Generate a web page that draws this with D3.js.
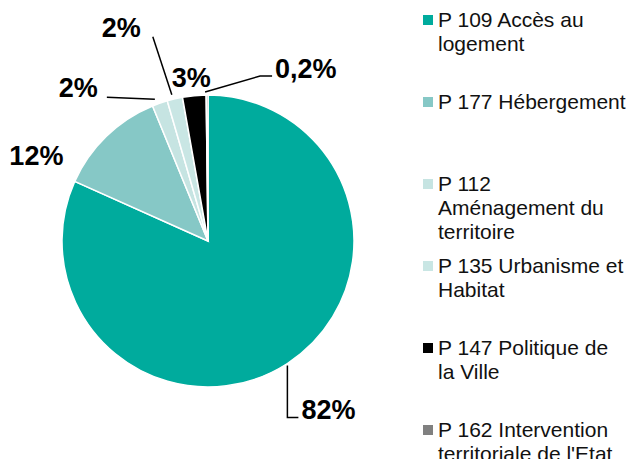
<!DOCTYPE html>
<html>
<head>
<meta charset="utf-8">
<script src="https://cdn.jsdelivr.net/npm/d3@7"></script>
<style>
  body { margin: 0; background: #fff; }
  text { font-family: "Liberation Sans", Arial, sans-serif; }
</style>
</head>
<body>
<svg id="chart" width="630" height="459"></svg>
<script>
// programmes, in drawing order (clockwise from 12 o'clock)
let programmes = ["P 109", "P 177", "P 112", "P 135", "P 147", "P 162"];
let shares = [81.7, 12.1, 1.7, 1.7, 2.6, 0.2];
let shareLabels = ["82%", "12%", "2%", "2%", "3%", "0,2%"];
let legendLines = [
    ["P 109 Accès au", "logement"],
    ["P 177 Hébergement"],
    ["P 112", "Aménagement du", "territoire"],
    ["P 135 Urbanisme et", "Habitat"],
    ["P 147 Politique de", "la Ville"],
    ["P 162 Intervention", "territoriale de l'Etat"]
];
let colors = ["#00ab9d", "#86c8c6", "#c6e4e2", "#c9e6e4", "#000000", "#808080"];

let svgW = 630, svgH = 459;
let cx = 208, cy = 241, radius = 146;

let svg = d3.select("#chart");

let pie = d3.pie()
    .sort(null)
    .value(function (d) { return d; });

let arc = d3.arc()
    .innerRadius(0)
    .outerRadius(radius);

let arcs = pie(shares);

let g = svg.append("g")
    .attr("transform", "translate(" + cx + "," + cy + ")");

g.selectAll("path")
    .data(arcs)
    .enter()
    .append("path")
    .attr("d", arc)
    .style("fill", function (d, i) { return colors[i]; })
    .style("stroke", "#fff")
    .style("stroke-width", 1.5);

// point on the rim at the middle of a slice
function rim(d, r) {
    let a = (d.startAngle + d.endAngle) / 2;
    return [Math.sin(a) * r, -Math.cos(a) * r];
}

// label placement, relative to the rim point of each slice (like the original hand-placed labels)
let labelOffset = [[14, 55], [-43, 29], [-62, -6], [-34, -62], [-3, -9], [68, -17]];
let labelAnchor = ["start", "end", "end", "end", "middle", "start"];
// leader lines: elbow points, relative to the rim point
let leaders = [
    [[0, 2], [0, 54], [11, 54]],
    null,
    [[-5, -4], [-53, -6]],
    [[-3, -4], [-22, -62]],
    null,
    [[-2, -3], [53, -19], [65, -19]]
];

arcs.forEach(function (d, i) {
    let p = rim(d, radius);
    if (leaders[i]) {
        g.append("path")
            .attr("d", d3.line()(leaders[i].map(function (o) { return [p[0] + o[0], p[1] + o[1]]; })))
            .style("fill", "none")
            .style("stroke", "#000")
            .style("stroke-width", 1.5);
    }
    g.append("text")
        .attr("x", p[0] + labelOffset[i][0])
        .attr("y", p[1] + labelOffset[i][1])
        .attr("text-anchor", labelAnchor[i])
        .style("font-size", "27px")
        .style("font-weight", "bold")
        .text(shareLabels[i]);
});

// legend
let legendY = d3.scaleLinear()
    .domain([0, programmes.length - 1])
    .range([27, 437]);

let legend = svg.selectAll(".legend")
    .data(programmes)
    .enter()
    .append("g")
    .attr("class", "legend")
    .attr("transform", function (d, i) { return "translate(423," + legendY(i) + ")"; });

legend.append("rect")
    .attr("x", 0)
    .attr("y", -12)
    .attr("width", 10)
    .attr("height", 10)
    .style("fill", function (d, i) { return colors[i]; });

legend.append("text")
    .attr("x", 15)
    .style("font-size", "21px")
    .style("fill", "#111")
    .each(function (d, i) {
        d3.select(this).selectAll("tspan")
            .data(legendLines[i])
            .enter()
            .append("tspan")
            .attr("x", 15)
            .attr("dy", function (t, j) { return j === 0 ? 0 : 24; })
            .text(function (t) { return t; });
    });
</script>
</body>
</html>
